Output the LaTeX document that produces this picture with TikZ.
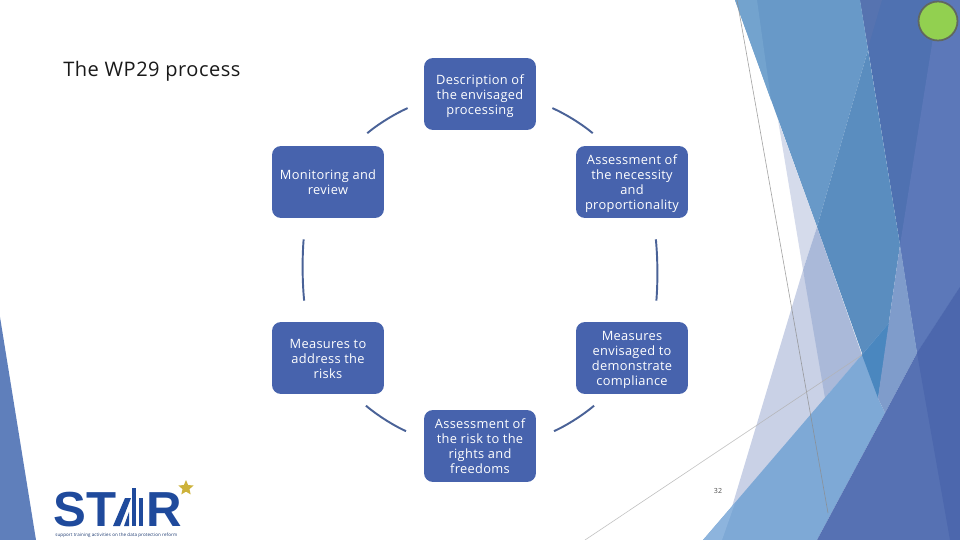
\documentclass[tikz,border=0pt]{standalone}
\usepackage{fontspec}
\setmainfont[LetterSpace=2.5]{Open Sans}
\newfontfamily\logofont{Liberation Sans}
\usetikzlibrary{shapes.geometric}
\newcommand{\topgap}{\rule{0pt}{7.9pt}}
\definecolor{boxblue}{HTML}{4763AD}
\definecolor{arcblue}{HTML}{4A6297}
\definecolor{logoblue}{HTML}{1F4A9C}
\definecolor{logostar}{HTML}{CDB23A}
\definecolor{badgegreen}{HTML}{92D050}
\definecolor{badgerim}{HTML}{606860}
\definecolor{facetleft}{HTML}{5F7FBB}
\definecolor{facettop}{HTML}{6899C8}
\definecolor{facetedge}{HTML}{73A3CE}
\definecolor{facetmid}{HTML}{5A8DBF}
\definecolor{facetdark}{HTML}{4F71B1}
\definecolor{facetnotch}{HTML}{5673B0}
\definecolor{facetperi}{HTML}{5C78B9}
\definecolor{facetpale}{HTML}{D5DBEB}
\definecolor{facetlav}{HTML}{C9D1E6}
\definecolor{facetgrey}{HTML}{AAB9D9}
\definecolor{facetsky}{HTML}{7EA9D6}
\definecolor{facetskylt}{HTML}{8DB4DD}
\definecolor{facetdeep}{HTML}{4A87BF}
\definecolor{facetstrip}{HTML}{7F9CCB}
\definecolor{facetlow}{HTML}{5671B3}
\definecolor{facetlowdk}{HTML}{4C67AD}
\tikzset{
  stage/.style={rectangle,rounded corners=0.18cm,fill=boxblue,text=white,align=center,
    minimum width=2.24cm,minimum height=1.44cm,inner sep=0pt,
    font=\fontsize{7.3}{8.5}\selectfont,
    execute at end node={\rule[-2pt]{0pt}{2pt}}},
  linkarc/.style={draw=arcblue,line width=1.1pt,shorten <=10pt,shorten >=11pt},
  sidearc/.style={draw=arcblue,line width=1.1pt,shorten <=12pt,shorten >=12pt},
  logoletter/.style={anchor=base,inner sep=0pt,text=logoblue,font=\logofont\bfseries\fontsize{28}{28}\selectfont}
}
\begin{document}
\begin{tikzpicture}[x=0.02cm,y=-0.02cm]
\useasboundingbox (0,0) rectangle (960,540);
% facets
\fill[facetleft] (0,317) -- (36,540) -- (0,540) -- cycle;
\fill[facetdark] (860,0) -- (960,0) -- (960,287) -- (917,353) -- (900,245) -- cycle;
\fill[facetnotch] (860,0) -- (882,0) -- (868,48) -- cycle;
\fill[facetperi] (939,0) -- (960,0) -- (960,287) -- (917,353) -- (900,245) -- cycle;
\fill[facettop] (735,0) -- (860,0) -- (868,50) -- (817,227) -- cycle;
\fill[facetedge] (735,0) -- (757,0) -- (771,100) -- cycle;
\fill[facetmid] (868,50) -- (900,245) -- (878,398) -- (817,227) -- cycle;
\fill[facetpale] (778,120) -- (817,227) -- (803,270) -- cycle;
\fill[facetlav] (803,270) -- (830,400) -- (728,520) -- cycle;
\fill[facetgrey] (817,227) -- (862,355) -- (825,398) -- (803,270) -- cycle;
\fill[facetsky] (703,540) -- (890,322) -- (878,398) -- (885,413) -- (817,540) -- cycle;
\fill[facetskylt] (703,540) -- (735,503) -- (722,540) -- cycle;
\fill[facetdeep] (862,355) -- (890,322) -- (878,398) -- cycle;
\fill[facetstrip] (900,245) -- (917,353) -- (885,413) -- (878,398) -- cycle;
\fill[facetlow] (817,540) -- (885,413) -- (917,353) -- (960,287) -- (960,540) -- cycle;
\fill[facetlowdk] (917,353) -- (960,287) -- (960,540) -- (950,540) -- cycle;
\draw[black!45,line width=0.35pt,opacity=0.8] (737,0) -- (828,513);
\draw[black!30,line width=0.35pt,opacity=0.8] (585,540) -- (862,355);
\node[circle,fill=badgegreen,draw=badgerim,line width=1pt,minimum size=0.78cm,inner sep=0pt] (badge) at (938,21) {};
% title and page number
\node[anchor=base west,inner sep=0pt,text=black!90,font=\fontsize{11.4}{13}\selectfont] (title) at (63,77) {The WP29 process};
\node[inner sep=0pt,text=black!70,font=\fontsize{4}{5}\selectfont] (page) at (718,491) {32};
% stages
\node[stage] (desc) at (480,94) {\topgap Description of\\the envisaged\\processing};
\node[stage] (necess) at (632,182) {\topgap Assessment of\\the necessity\\and\\proportionality};
\node[stage] (demo) at (632,358) {\topgap Measures\\envisaged to\\demonstrate\\compliance};
\node[stage] (risk) at (480,446) {\topgap Assessment of\\the risk to the\\rights and\\freedoms};
\node[stage] (address) at (328,358) {\topgap Measures to\\address the\\risks};
\node[stage] (monitor) at (328,182) {\topgap Monitoring and\\review};
\path[linkarc]
(desc.187) edge[bend right=8] (monitor.56)
(desc.353) edge[bend left=8] (necess.124)
(address.304) edge[bend right=8] (risk.173)
(demo.236) edge[bend left=8] (risk.7);
\path[sidearc]
(monitor.238.6) edge[bend right=5] (address.121.4)
(necess.301.4) edge[bend left=5] (demo.58.6);
% logo
\node[logoletter] (logoS) at (69.5,526) {S};
\node[logoletter] (logoT) at (102,526) {T};
\node[logoletter] (logoR) at (164,526) {R};
\fill[logoblue] (113,526) -- (120,526) -- (131,498) -- (125,498) -- cycle;
\fill[logoblue] (124,526) -- (129,526) -- (129,512) -- cycle;
\fill[logoblue] (132,488) rectangle (136,526);
\fill[logoblue] (139,498) rectangle (143,526);
\node[star,star points=5,star point ratio=2.2,fill=logostar,inner sep=0pt,minimum size=0.32cm] (goldstar) at (186,488) {};
\node[anchor=west,inner sep=0pt,text=logoblue!70!black,font=\fontsize{2.55}{3}\selectfont] (tagline) at (55,535) {support training activities on the data protection reform};
\end{tikzpicture}
\end{document}
